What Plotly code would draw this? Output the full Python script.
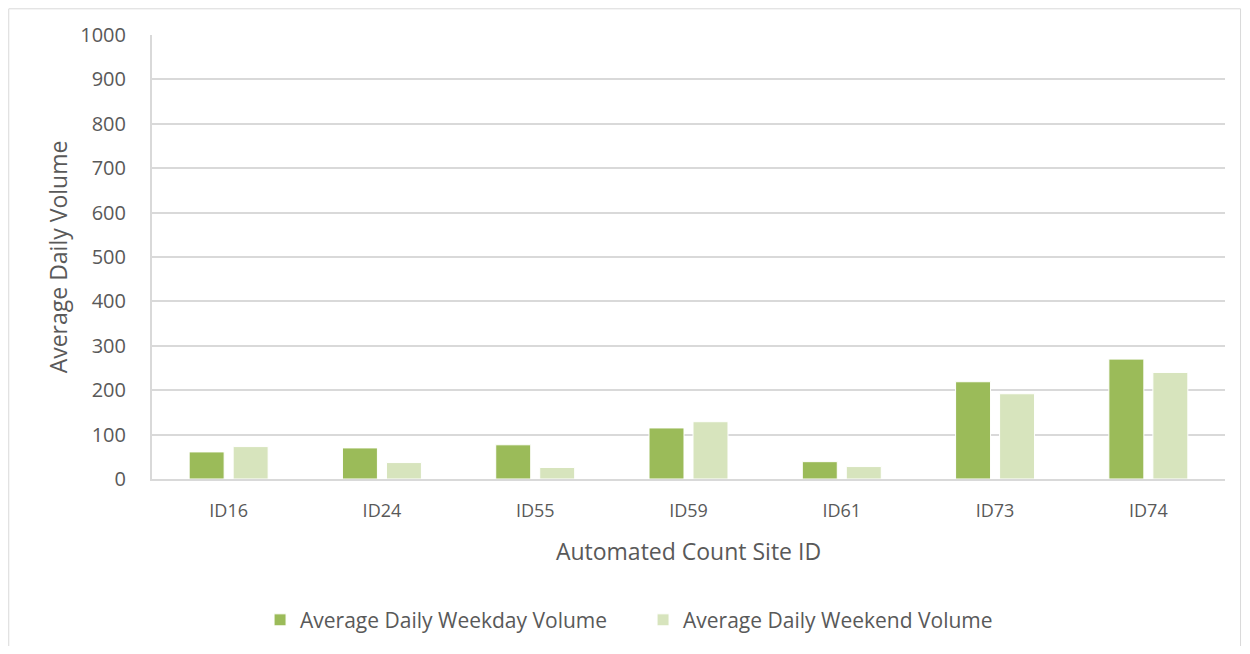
import plotly.graph_objects as go

# Data
sites = ['ID16', 'ID24', 'ID55', 'ID59', 'ID61', 'ID73', 'ID74']
weekday_volume = [61, 70, 77, 115, 39, 219, 270]
weekend_volume = [73, 37, 26, 129, 28, 192, 240]
y_ticks = [0, 100, 200, 300, 400, 500, 600, 700, 800, 900, 1000]

text_color = '#595959'
grid_color = '#D9D9D9'
font_family = 'Open Sans, Lato, sans-serif'

fig = go.Figure()

fig.add_trace(go.Bar(
    x=sites,
    y=weekday_volume,
    name='Average Daily Weekday Volume',
    marker=dict(color='#9BBB59', line=dict(color='#FFFFFF', width=1)),
))

fig.add_trace(go.Bar(
    x=sites,
    y=weekend_volume,
    name='Average Daily Weekend Volume',
    marker=dict(color='#D7E4BD', line=dict(color='#FFFFFF', width=1)),
))

# outer chart border
fig.add_shape(
    type='rect', xref='paper', yref='paper',
    x0=-0.1335, x1=1.0145, y0=-0.6, y1=1.059,
    line=dict(color='#D9D9D9', width=1), fillcolor='rgba(0,0,0,0)',
    layer='below',
)

fig.update_layout(
    width=1234,
    height=638,
    margin=dict(l=144, r=17, t=27, b=167, autoexpand=False),
    paper_bgcolor='white',
    plot_bgcolor='white',
    barmode='group',
    bargap=0.426,
    bargroupgap=0.205,
    font=dict(family=font_family, color=text_color, size=18),
    showlegend=True,
    legend=dict(
        orientation='h',
        x=0.1007, xanchor='left',
        y=-0.318, yanchor='middle',
        font=dict(size=21, color=text_color),
        itemwidth=30,
        entrywidth=338,
        entrywidthmode='pixels',
    ),
    xaxis=dict(
        title=dict(text='Automated Count Site ID', font=dict(size=23), standoff=23),
        tickfont=dict(size=18),
        showline=True,
        linecolor=grid_color,
        linewidth=2,
        ticks='',
        ticklabelstandoff=14,
        automargin=False,
    ),
    yaxis=dict(
        title=dict(text='Average Daily Volume', font=dict(size=23), standoff=6),
        range=[0, 1000],
        tickvals=y_ticks,
        tickfont=dict(size=20),
        showgrid=True,
        gridcolor=grid_color,
        gridwidth=2,
        zeroline=False,
        showline=True,
        linecolor=grid_color,
        linewidth=2,
        ticks='',
        ticklabelstandoff=20,
        automargin=False,
    ),
)

fig.write_html('out.html')
